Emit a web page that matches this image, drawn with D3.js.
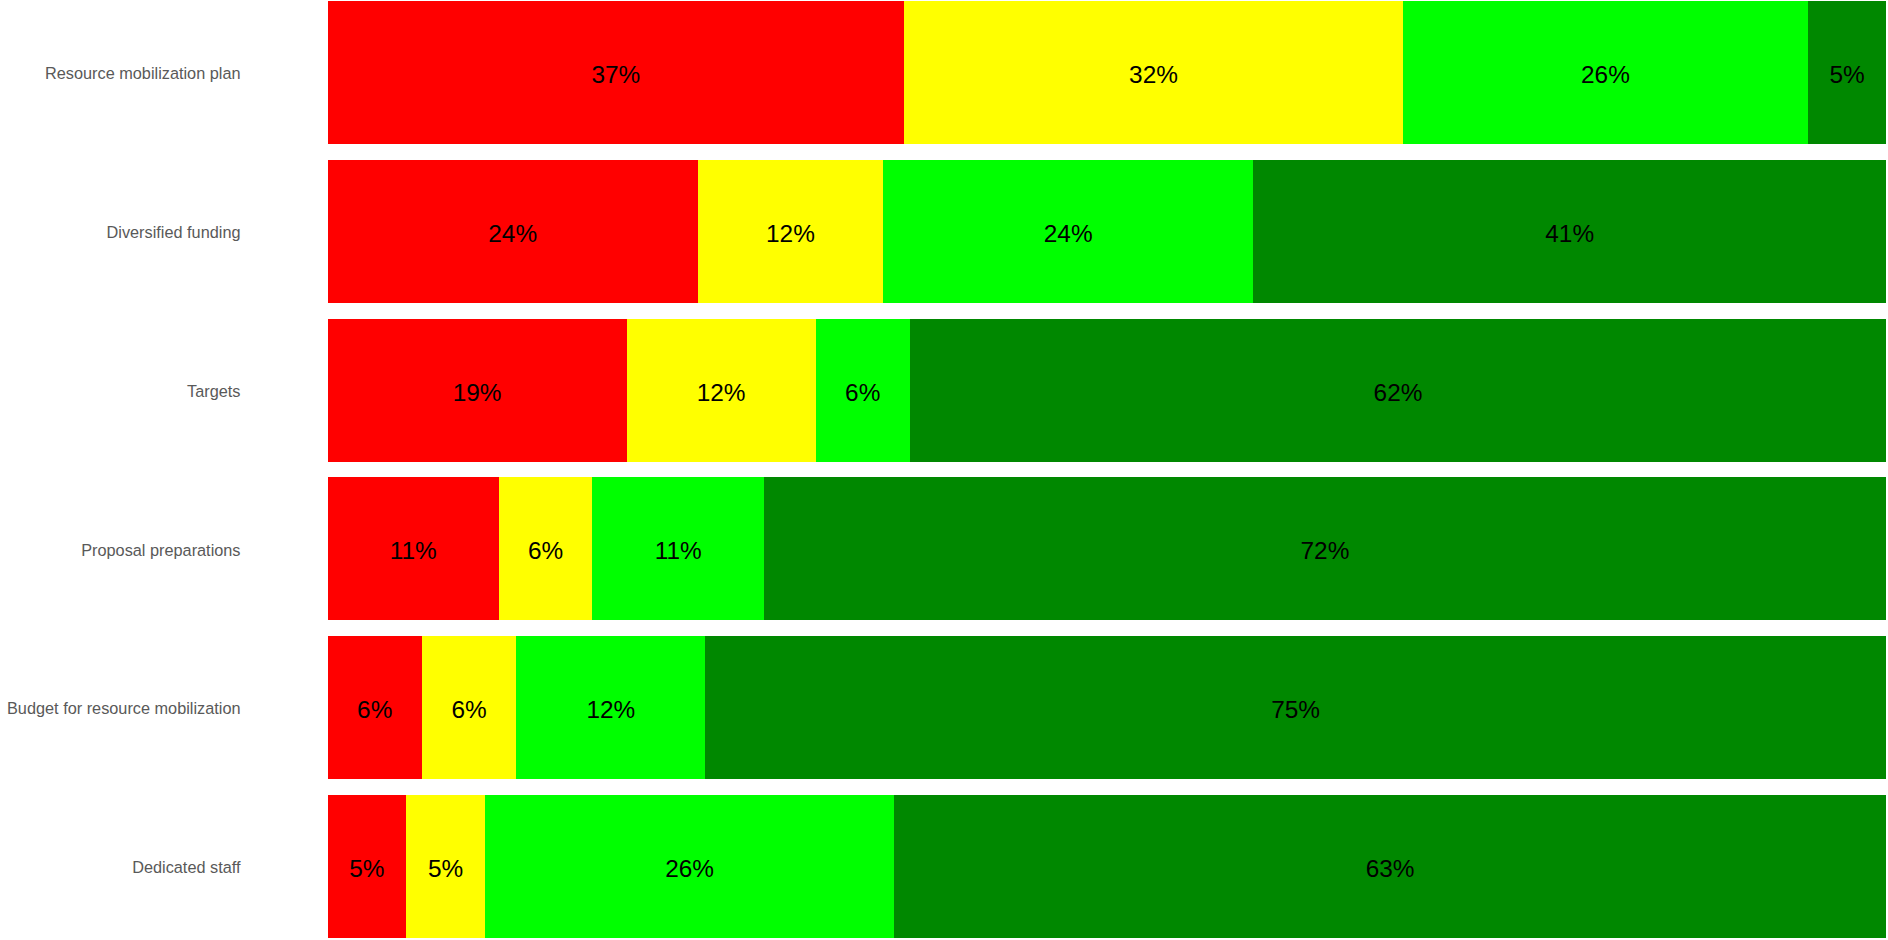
<!DOCTYPE html>
<html>
<head>
<meta charset="utf-8">
<script src="https://cdn.jsdelivr.net/npm/d3@7"></script>
<style>
  html, body { margin: 0; padding: 0; background: #fff; }
  svg { display: block; }
</style>
</head>
<body>
<svg id="chart" width="1888" height="940"></svg>
<script>
// Rows, top to bottom
const categories = [
  "Resource mobilization plan",
  "Diversified funding",
  "Targets",
  "Proposal preparations",
  "Budget for resource mobilization",
  "Dedicated staff"
];

// Share of responses per rating level (percent), one array per level
const levelNames = ["level1", "level2", "level3", "level4"];
const level1 = [37, 24, 19, 11, 6, 5];
const level2 = [32, 12, 12, 6, 6, 5];
const level3 = [26, 24, 6, 11, 12, 26];
const level4 = [5, 41, 62, 72, 75, 63];

const levelColors = ["#ff0000", "#ffff00", "#00ff00", "#008800"];

const rows = categories.map((c, i) => ({
  category: c,
  level1: level1[i],
  level2: level2[i],
  level3: level3[i],
  level4: level4[i]
}));

const svg = d3.select("#chart");
const left = 327.5, right = 1886;

// Each row fills the full width
const stack = d3.stack()
  .keys(levelNames)
  .offset(d3.stackOffsetExpand);
const series = stack(rows);

const x = d3.scaleLinear().domain([0, 1]).range([left, right]);
const y = d3.scaleBand()
  .domain(categories)
  .range([1, 938])
  .paddingInner(0.1)
  .paddingOuter(0);

const color = d3.scaleOrdinal().domain(levelNames).range(levelColors);

const groups = svg.append("g")
  .selectAll("g")
  .data(series)
  .join("g")
  .attr("fill", d => color(d.key));

groups.selectAll("rect")
  .data(d => d.map(p => ({ p, key: d.key })))
  .join("rect")
  .attr("x", d => x(d.p[0]))
  .attr("y", d => y(d.p.data.category))
  .attr("width", d => x(d.p[1]) - x(d.p[0]))
  .attr("height", y.bandwidth())
  .attr("shape-rendering", "crispEdges");

// Percentage labels centred in each segment
groups.selectAll("text")
  .data(d => d.map(p => ({ p, key: d.key })))
  .join("text")
  .attr("x", d => (x(d.p[0]) + x(d.p[1])) / 2)
  .attr("y", d => y(d.p.data.category) + y.bandwidth() / 2)
  .attr("dy", "0.43em")
  .attr("text-anchor", "middle")
  .attr("fill", "#000")
  .style("font-family", "'Liberation Sans', Arial, sans-serif")
  .style("font-size", "24.4px")
  .text(d => d.p.data[d.key] + "%");

// Category axis on the left
const yAxis = d3.axisLeft(y).tickSize(0).tickPadding(0);
const axisG = svg.append("g")
  .attr("transform", "translate(240.5,0)")
  .call(yAxis);
axisG.select(".domain").remove();
axisG.selectAll("text")
  .attr("dy", "0.41em")
  .attr("fill", "#595959")
  .style("font-family", "'Liberation Sans', Arial, sans-serif")
  .style("font-size", "16.3px");
</script>
</body>
</html>
